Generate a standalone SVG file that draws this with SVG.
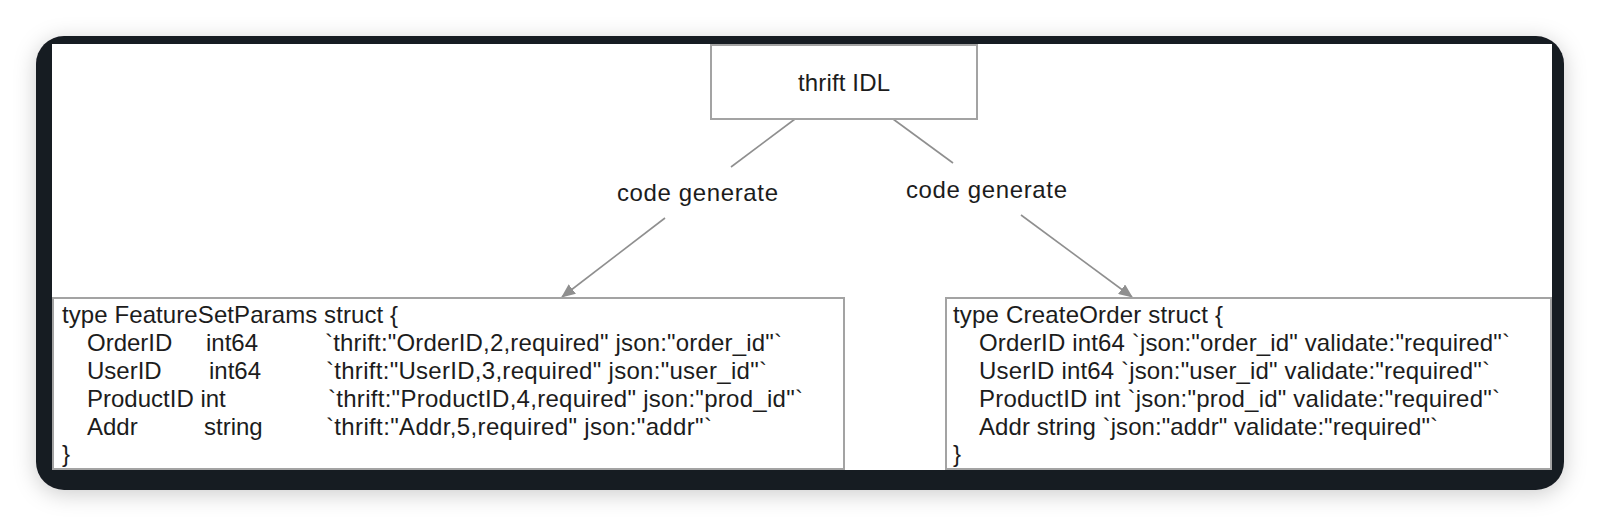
<svg xmlns="http://www.w3.org/2000/svg" width="1600" height="526" viewBox="0 0 1600 526">
  <defs>
    <filter id="shadow" x="-5%" y="-15%" width="110%" height="130%">
      <feDropShadow dx="0" dy="4" stdDeviation="11" flood-color="#000" flood-opacity="0.2"/>
    </filter>
    <marker id="arrow" markerWidth="14" markerHeight="12" refX="13" refY="6" orient="auto" markerUnits="userSpaceOnUse">
      <path d="M0,0 L14,6 L0,12 Z" fill="#8f8f8f"/>
    </marker>
  </defs>
  <style>
    text { font-family: "Liberation Sans", Arial, Helvetica, sans-serif; font-size: 24px; fill: #1c1c1c; }
    .box { fill: #ffffff; stroke: #a3a3a3; stroke-width: 2; }
    .edge { stroke: #8f8f8f; stroke-width: 1.6; fill: none; }
  </style>
  <rect x="0" y="0" width="1600" height="526" fill="#ffffff"/>
  <g id="frame">
    <rect x="36" y="36" width="1528" height="454" rx="28" ry="28" fill="#181b22" filter="url(#shadow)"/>
    <rect x="52" y="44" width="1500" height="426" fill="#ffffff"/>
  </g>
  <g id="connectors">
    <line class="edge" x1="795" y1="119" x2="731" y2="167"/>
    <line class="edge" x1="665" y1="218" x2="562" y2="297" marker-end="url(#arrow)"/>
    <line class="edge" x1="893" y1="119" x2="953" y2="163"/>
    <line class="edge" x1="1021" y1="215" x2="1132" y2="297" marker-end="url(#arrow)"/>
    <text x="617" y="201" textLength="161" lengthAdjust="spacing">code generate</text>
    <text x="906" y="198" textLength="161" lengthAdjust="spacing">code generate</text>
  </g>
  <g id="thrift-idl">
    <rect class="box" x="711" y="45" width="266" height="74"/>
    <text x="798" y="91" textLength="92" lengthAdjust="spacing">thrift IDL</text>
  </g>
  <g id="feature-set-params">
    <rect class="box" x="53" y="298" width="791" height="171"/>
    <text x="62" y="323" textLength="336" lengthAdjust="spacing">type FeatureSetParams struct {</text>
    <text y="351"><tspan x="87">OrderID</tspan><tspan x="206">int64</tspan><tspan x="325" textLength="457" lengthAdjust="spacing">`thrift:"OrderID,2,required" json:"order_id"`</tspan></text>
    <text y="379"><tspan x="87">UserID</tspan><tspan x="209">int64</tspan><tspan x="326" textLength="441" lengthAdjust="spacing">`thrift:"UserID,3,required" json:"user_id"`</tspan></text>
    <text y="407"><tspan x="87">ProductID int</tspan><tspan x="328" textLength="475" lengthAdjust="spacing">`thrift:"ProductID,4,required" json:"prod_id"`</tspan></text>
    <text y="435"><tspan x="87">Addr</tspan><tspan x="204">string</tspan><tspan x="326" textLength="386" lengthAdjust="spacing">`thrift:"Addr,5,required" json:"addr"`</tspan></text>
    <text x="62" y="462">}</text>
  </g>
  <g id="create-order">
    <rect class="box" x="946" y="298" width="605" height="171"/>
    <text x="953" y="323" textLength="270" lengthAdjust="spacing">type CreateOrder struct {</text>
    <text x="979" y="351" textLength="531" lengthAdjust="spacing">OrderID int64 `json:"order_id" validate:"required"`</text>
    <text x="979" y="379" textLength="511" lengthAdjust="spacing">UserID int64 `json:"user_id" validate:"required"`</text>
    <text x="979" y="407" textLength="521" lengthAdjust="spacing">ProductID int `json:"prod_id" validate:"required"`</text>
    <text x="979" y="435" textLength="459" lengthAdjust="spacing">Addr string `json:"addr" validate:"required"`</text>
    <text x="953" y="462">}</text>
  </g>
</svg>
